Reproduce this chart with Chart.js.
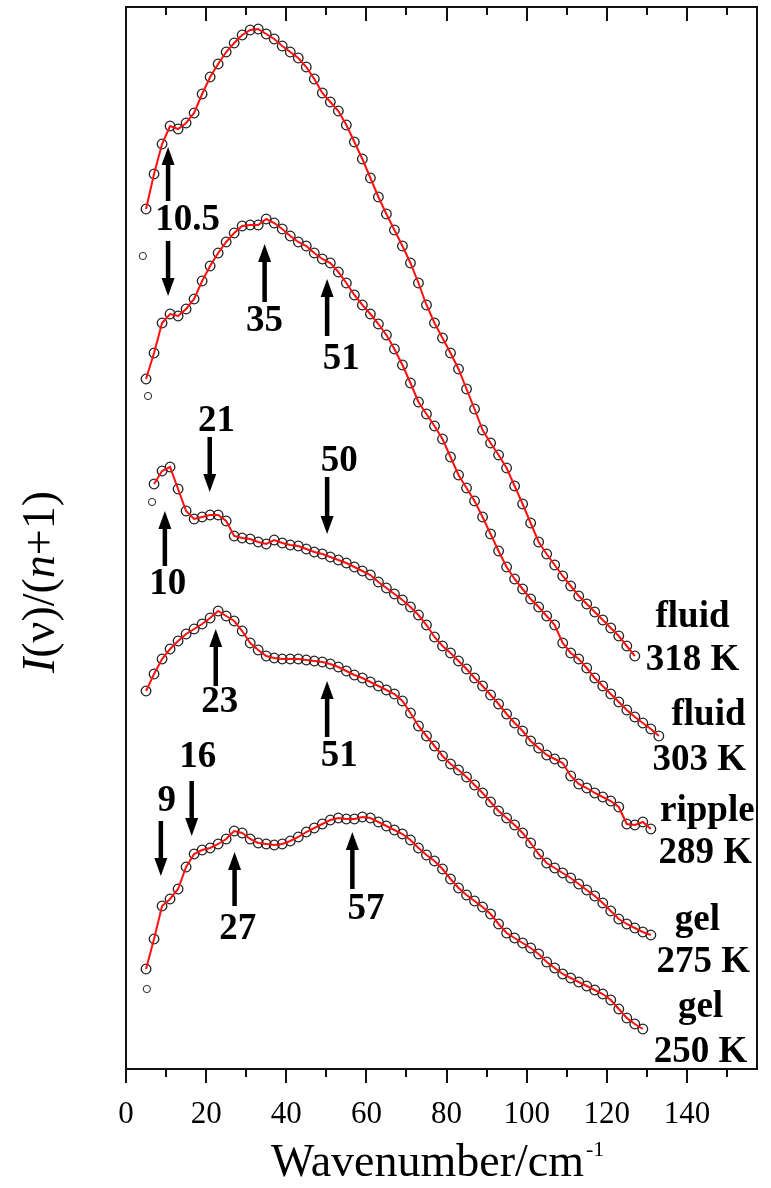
<!DOCTYPE html>
<html>
<head>
<meta charset="utf-8">
<script src="https://cdn.jsdelivr.net/npm/chart.js@4.4.0/dist/chart.umd.min.js"></script>
<style>
html,body{margin:0;padding:0;background:#fff}
</style>
</head>
<body>
<canvas id="chart" width="771" height="1188"></canvas>
<script>
// Low-frequency spectra I(v)/(n+1), stacked (offsets already in the values)
const wavenumber = [5,7,9,11,13,15,17,19,21,23,25,27,29,31,33,35,37,39,41,43,45,47,49,51,53,55,57,59,61,63,65,67,69,71,73,75,77,79,81,83,85,87,89,91,93,95,97,99,101,103,105,107,109,111,113,115,117,119,121,123,125,127,129,131,133];

const fluid318 = [86.0,89.5,92.5,94.3,94.0,94.6,95.6,97.5,99.2,100.5,101.7,102.6,103.4,103.9,104.0,103.5,103.0,102.3,101.7,101.1,100.2,99.0,97.6,96.7,95.8,94.4,92.7,91.0,89.1,87.2,85.5,83.9,82.3,80.6,78.6,76.4,74.6,73.1,71.6,70.0,68.0,66.0,63.9,62.6,61.4,60.1,58.3,56.5,54.6,52.7,51.5,50.4,49.3,48.3,47.3,46.5,45.7,44.9,44.1,43.3,42.3,41.3,null,null,null];
const fluid303 = [69.0,71.6,74.6,75.5,75.3,76.0,77.0,78.8,80.3,81.6,82.7,83.6,84.3,84.4,84.4,85.0,84.6,84.0,83.3,82.7,82.3,81.6,81.0,80.6,79.7,78.6,77.4,76.4,75.5,74.5,73.4,72.0,70.4,68.6,66.7,65.5,64.3,63.0,61.2,59.4,58.1,56.8,55.2,53.5,51.8,50.2,49.0,48.0,47.0,46.2,45.3,44.4,42.6,41.6,41.0,40.1,39.1,38.3,37.5,36.7,35.9,35.2,34.6,34.0,33.3];
const ripple289 = [null,58.5,59.8,60.2,58.0,55.8,55.0,55.2,55.4,55.4,54.8,53.3,53.1,53.0,52.7,52.5,52.9,52.6,52.4,52.3,52.0,51.7,51.5,51.2,50.9,50.6,50.2,49.8,49.4,48.7,48.1,47.5,46.9,46.2,45.4,44.4,43.2,42.3,41.6,40.8,40.0,39.1,38.3,37.4,36.5,35.5,34.6,33.8,32.8,32.1,31.4,31.0,30.6,29.3,28.5,28.1,27.6,27.2,26.8,26.2,24.5,24.4,24.7,24.0,null];
const gel275 = [37.8,39.5,41.0,42.0,42.8,43.5,44.0,44.5,45.1,45.8,45.3,44.8,43.8,42.6,41.9,41.3,41.1,41.0,41.0,41.0,40.9,40.8,40.7,40.5,40.2,39.8,39.4,39.1,38.7,38.3,37.9,37.5,36.8,35.6,34.3,33.3,32.3,31.3,30.5,29.9,29.2,28.4,27.6,26.7,25.8,25.1,24.4,23.6,22.6,21.5,20.6,20.1,19.6,19.1,18.5,17.9,17.3,16.6,15.8,15.0,14.5,14.1,13.7,13.4,null];
const gel250 = [10.0,13.0,16.3,17.0,18.0,20.2,21.5,21.9,22.1,22.5,23.0,23.8,23.6,23.0,22.6,22.5,22.4,22.5,22.8,23.2,23.7,24.1,24.5,24.9,25.1,25.0,25.0,25.2,25.1,24.7,24.3,23.9,23.5,22.9,22.1,21.4,20.8,20.0,19.0,18.1,17.4,16.8,16.2,15.5,14.5,13.6,13.1,12.6,12.1,11.5,10.7,10.1,9.5,9.1,8.7,8.3,7.9,7.5,6.9,6.0,5.1,4.5,4.0,null,null];

// lone circles at the low-frequency ends
const strayX = [4.2, 5.5, 6.5, 5.2];
const strayY = [81.3, 67.3, 56.7, 8.0];

// x axis ticks
const majorTicks = [0,20,40,60,80,100,120,140];
const minorTicks = [10,30,50,70,90,110,130,150];

// peak markers: x, arrow tail y, arrow head y
const arrowX    = [10.5, 10.5, 34.6, 50.2, 20.9, 50.2, 9.7, 22.4, 50.2, 8.7, 16.4, 27.1, 56.5];
const arrowTail = [86.8, 82.8, 76.7, 73.3, 63.2, 59.2, 50.3, 38.3, 33.2, 24.8, 28.8, 16.3, 18.0];
const arrowHead = [92.2, 77.3, 82.5, 79.0, 57.7, 53.5, 55.8, 44.0, 38.8, 19.3, 23.3, 21.7, 23.7];

const peakText = ['10.5','35','51','21','50','10','23','51','9','16','27','57'];
const peakX    = [15.4, 34.6, 53.7, 22.6, 53.2, 10.4, 23.4, 53.2, 10.2, 17.9, 27.9, 59.9];
const peakY    = [84.9, 74.8, 71.0, 64.8, 60.8, 48.5, 36.7, 31.3, 26.8, 31.2, 14.0, 16.0];

const phaseText = ['fluid','318 K','fluid','303 K','ripple','289 K','gel','275 K','gel','250 K'];
const phaseX    = [141.4, 141.4, 145.4, 143.1, 145.1, 144.6, 142.6, 144.1, 143.4, 143.4];
const phaseY    = [45.2, 40.9, 35.4, 30.9, 25.8, 21.6, 14.9, 10.7, 6.2, 1.7];

const SERIF = '"Liberation Serif", "Times New Roman", serif';

function pts(ys){
  return wavenumber.map((x,i)=>({x:x, y:ys[i]})).filter(p=>p.y!==null);
}

const circleStyle = {pointRadius:4.8, pointBorderWidth:1.3,
  pointBackgroundColor:'rgba(255,255,255,0)', pointBorderColor:'#222'};

const curves = [fluid318, fluid303, ripple289, gel275, gel250];
const datasets = [];
curves.forEach(c=>{
  datasets.push({type:'line', data:pts(c), borderColor:'#ff1010', borderWidth:2, pointRadius:0, tension:0, order:0});
  datasets.push(Object.assign({type:'scatter', data:pts(c), showLine:false, order:1}, circleStyle));
});
datasets.push(Object.assign({type:'scatter', data:strayX.map((x,i)=>({x:x,y:strayY[i]})), order:1}, circleStyle, {pointRadius:3.6, pointBorderWidth:1}));

const extras = {
  id:'extras',
  afterDraw(chart){
    const ctx = chart.ctx, a = chart.chartArea, x = chart.scales.x, y = chart.scales.y;
    ctx.save();
    ctx.strokeStyle = '#111';
    ctx.lineWidth = 2;
    ctx.strokeRect(a.left, a.top, a.right-a.left, a.bottom-a.top);

    // ticks: outward at the bottom, inward at the top
    ctx.beginPath();
    majorTicks.forEach(v=>{
      const px = Math.round(x.getPixelForValue(v));
      ctx.moveTo(px, a.bottom); ctx.lineTo(px, a.bottom+14);
      ctx.moveTo(px, a.top); ctx.lineTo(px, a.top+14);
    });
    minorTicks.forEach(v=>{
      const px = Math.round(x.getPixelForValue(v));
      ctx.moveTo(px, a.bottom); ctx.lineTo(px, a.bottom+8);
      ctx.moveTo(px, a.top); ctx.lineTo(px, a.top+8);
    });
    ctx.stroke();

    // arrows
    ctx.fillStyle = '#000';
    ctx.strokeStyle = '#000';
    arrowX.forEach((v,i)=>{
      const px = x.getPixelForValue(v);
      const t = y.getPixelForValue(arrowTail[i]);
      const h = y.getPixelForValue(arrowHead[i]);
      const dir = h < t ? -1 : 1;
      ctx.lineWidth = 4.5;
      ctx.beginPath();
      ctx.moveTo(px, t);
      ctx.lineTo(px, h - dir*14);
      ctx.stroke();
      ctx.beginPath();
      ctx.moveTo(px, h);
      ctx.lineTo(px-6.5, h - dir*18);
      ctx.lineTo(px+6.5, h - dir*18);
      ctx.closePath();
      ctx.fill();
    });

    ctx.textAlign = 'center';
    ctx.textBaseline = 'middle';
    ctx.font = 'bold 37px ' + SERIF;
    peakText.forEach((s,i)=>{
      ctx.fillText(s, x.getPixelForValue(peakX[i]), y.getPixelForValue(peakY[i]));
    });
    phaseText.forEach((s,i)=>{
      ctx.fillText(s, x.getPixelForValue(phaseX[i]), y.getPixelForValue(phaseY[i]));
    });

    // x axis title with superscript
    ctx.textAlign = 'left';
    ctx.textBaseline = 'alphabetic';
    ctx.font = '46px ' + SERIF;
    const main = 'Wavenumber/cm';
    const w = ctx.measureText(main).width;
    const cx = (a.left + a.right)/2 - 14;
    ctx.fillText(main, cx - w/2, 1176);
    ctx.font = '22px ' + SERIF;
    ctx.fillText('-1', cx + w/2 + 2, 1156);

    // y axis title, rotated, with italic I and n
    const parts = [['I','italic '],['(\u03bd)/(',''],['n','italic '],['+1)','']];
    ctx.translate(42, 582);
    ctx.rotate(-Math.PI/2);
    let total = 0;
    parts.forEach(p=>{ ctx.font = p[1]+'46px '+SERIF; total += ctx.measureText(p[0]).width; });
    let pos = -total/2;
    ctx.textBaseline = 'middle';
    parts.forEach(p=>{
      ctx.font = p[1]+'46px '+SERIF;
      ctx.fillText(p[0], pos, 0);
      pos += ctx.measureText(p[0]).width;
    });
    ctx.restore();
  }
};

new Chart(document.getElementById('chart'), {
  data:{datasets:datasets},
  options:{
    responsive:false,
    animation:false,
    devicePixelRatio:1,
    layout:{padding:{left:126, right:14, top:7, bottom:0}},
    plugins:{legend:{display:false}, tooltip:{enabled:false}},
    scales:{
      x:{type:'linear', min:0, max:157.5,
        grid:{display:false}, border:{display:false},
        ticks:{stepSize:20, includeBounds:false, padding:19, color:'#000', maxRotation:0,
          font:{family:SERIF, size:31},
          callback:v=> (v % 20 === 0 && v <= 140) ? String(v) : ''},
        afterFit:s=>{ s.height = 119; }
      },
      y:{type:'linear', min:0, max:106.2, display:false}
    }
  },
  plugins:[extras]
});
</script>
</body>
</html>
